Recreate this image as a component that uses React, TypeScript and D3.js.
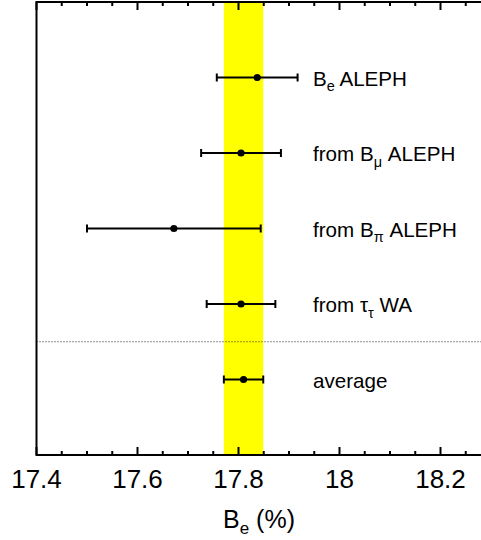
import { useEffect, useRef } from 'react';
import * as d3 from 'd3';

// measurements, top to bottom
const prefixes = ['', 'from ', 'from ', 'from ', 'average'];
const symbols = ['B', 'B', 'B', 'τ', ''];
const subs = ['e', 'μ', 'π', 'τ', ''];
const suffixes = ['ALEPH', 'ALEPH', 'ALEPH', 'WA', ''];
const values = [17.837, 17.805, 17.672, 17.805, 17.81];
const errors = [0.08, 0.079, 0.172, 0.068, 0.039];

const majorTicks = [17.4, 17.6, 17.8, 18, 18.2];
const tickLabels = ['17.4', '17.6', '17.8', '18', '18.2'];

const FONT = 'Liberation Sans, Arial, Helvetica, sans-serif';

export default function App() {
  const svgRef = useRef<SVGSVGElement>(null);
  const width = 481;
  const height = 540;

  useEffect(() => {
    document.body.style.margin = '0';
    if (!svgRef.current) return;
    const svg = d3.select(svgRef.current);
    svg.selectAll('*').remove();

    const left = 36.5;
    const top = 2;
    const bottom = 455;
    const x = d3.scaleLinear().domain([17.4, 18.3]).range([left, left + 0.9 * 505]);
    const y = d3.scaleLinear().domain([0, 6]).range([top, bottom]);

    const avg = values[values.length - 1];
    const avgErr = errors[errors.length - 1];

    // yellow band for the average
    svg.append('rect')
      .attr('x', x(avg - avgErr)).attr('y', top)
      .attr('width', x(avg + avgErr) - x(avg - avgErr))
      .attr('height', bottom - top)
      .attr('fill', '#ffff00');

    // separator before the average
    svg.append('line')
      .attr('x1', left).attr('x2', width)
      .attr('y1', y(4.5)).attr('y2', y(4.5))
      .attr('stroke', '#222').attr('stroke-width', 1)
      .attr('stroke-dasharray', '1,2');

    // frame
    svg.append('rect')
      .attr('x', left).attr('y', top)
      .attr('width', x(18.3) - left).attr('height', bottom - top)
      .attr('fill', 'none').attr('stroke', '#000').attr('stroke-width', 2);

    // ticks
    const minor = d3.range(17.4, 18.3001, 0.05);
    minor.forEach(v => {
      const isMajor = majorTicks.some(m => Math.abs(m - v) < 1e-6);
      const len = isMajor ? 8 : 4;
      svg.append('line')
        .attr('x1', x(v)).attr('x2', x(v))
        .attr('y1', bottom).attr('y2', bottom - len)
        .attr('stroke', '#000').attr('stroke-width', 2);
      svg.append('line')
        .attr('x1', x(v)).attr('x2', x(v))
        .attr('y1', top).attr('y2', top + len)
        .attr('stroke', '#000').attr('stroke-width', 2);
    });

    majorTicks.forEach((v, i) => {
      svg.append('text')
        .attr('x', x(v)).attr('y', 488)
        .attr('text-anchor', 'middle')
        .attr('font-family', FONT).attr('font-size', 26)
        .attr('fill', '#000')
        .text(tickLabels[i]);
    });

    // axis title
    const title = svg.append('text')
      .attr('x', 223).attr('y', 528)
      .attr('font-family', FONT).attr('font-size', 25)
      .attr('fill', '#000');
    title.append('tspan').text('B');
    title.append('tspan').attr('font-size', 17).attr('dy', 6).text('e');
    title.append('tspan').attr('dy', -6).text(' (%)');

    // error bars
    values.forEach((v, i) => {
      const cy = y(i + 1);
      const x0 = x(v - errors[i]);
      const x1 = x(v + errors[i]);
      svg.append('line')
        .attr('x1', x0).attr('x2', x1).attr('y1', cy).attr('y2', cy)
        .attr('stroke', '#000').attr('stroke-width', 2);
      [x0, x1].forEach(cx => {
        svg.append('line')
          .attr('x1', cx).attr('x2', cx).attr('y1', cy - 4).attr('y2', cy + 4)
          .attr('stroke', '#000').attr('stroke-width', 2);
      });
      svg.append('circle')
        .attr('cx', x(v)).attr('cy', cy).attr('r', 3.6)
        .attr('fill', '#000');

      // label
      const t = svg.append('text')
        .attr('x', 313).attr('y', cy + 8)
        .attr('font-family', FONT).attr('font-size', 20.6)
        .attr('fill', '#000');
      t.append('tspan').text(prefixes[i] + symbols[i]);
      if (subs[i]) {
        t.append('tspan').attr('font-size', 14.5).attr('dy', 5.5).text(subs[i]);
        t.append('tspan').attr('dy', -5.5).text(' ' + suffixes[i]);
      }
    });
  }, []);

  return (
    <svg
      ref={svgRef}
      width={width}
      height={height}
      style={{ display: 'block', background: '#fff' }}
    />
  );
}
